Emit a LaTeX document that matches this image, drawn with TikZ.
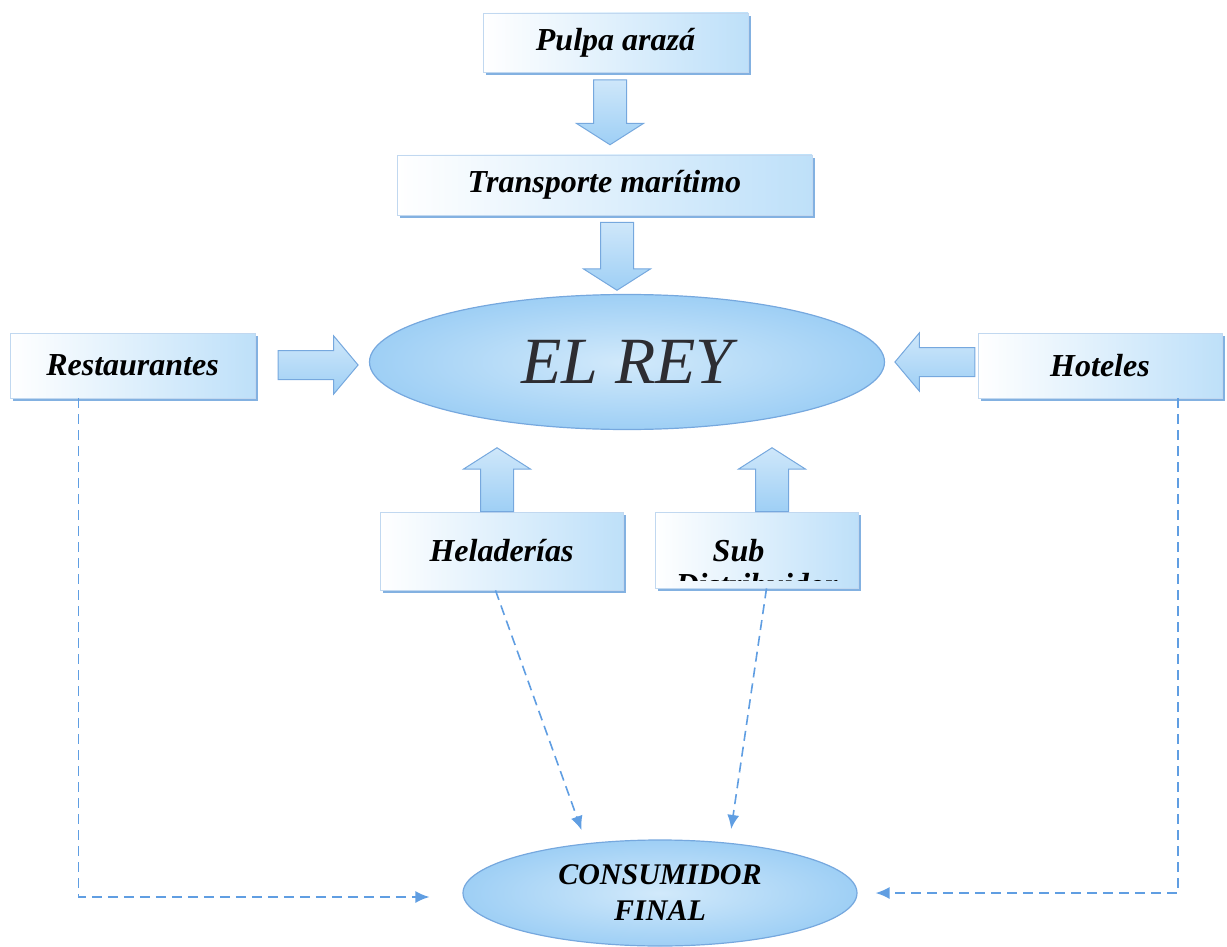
\documentclass[tikz,border=0pt]{standalone}
\usepackage{fontspec}
\setmainfont{Liberation Serif}
\usetikzlibrary{shapes.geometric,shapes.arrows,shadows,arrows.meta}

\definecolor{boxblue}{RGB}{190,224,249}
\definecolor{edgeblue}{RGB}{118,168,222}
\definecolor{dashblue}{RGB}{96,158,226}
\definecolor{arrowfill}{RGB}{158,207,245}
\definecolor{reygray}{RGB}{45,45,50}

\tikzset{
  box/.style={rectangle, inner sep=0pt, left color=white, right color=boxblue,
    draw=edgeblue!45, line width=0.4pt,
    drop shadow={shadow xshift=1.3pt, shadow yshift=-1.5pt, fill=edgeblue, opacity=0.9},
    font=\fontsize{16}{19}\selectfont\bfseries\itshape},
  oval/.style={ellipse, inner sep=0pt, inner color=boxblue!70, outer color=arrowfill,
    draw=edgeblue, line width=0.6pt},
  fatarrow/.style={single arrow, inner xsep=0pt, inner ysep=8pt, minimum height=#1,
    single arrow head extend=8.5pt, single arrow tip angle=115,
    top color=arrowfill!50, bottom color=arrowfill, draw=edgeblue, line width=0.5pt},
  fatarrow/.default=32pt,
  sidearrow/.style={fatarrow=40pt, inner ysep=7pt, single arrow head extend=7.3pt,
    single arrow tip angle=100},
  flow/.style={dashblue, line width=0.8pt, dash pattern=on 5pt off 3pt,
    -{Latex[length=7pt,width=6pt]}},
}

\begin{document}
\begin{tikzpicture}[x=0.5pt, y=-0.5pt]
  \useasboundingbox (0,0) rectangle (1227,947);

  % boxes
  \node[box, minimum width=132.5pt, minimum height=29.5pt] (pulpa) at (615.5,42.5) {Pulpa arazá};
  \node[box, minimum width=207.5pt, minimum height=30pt] (trans) at (604.5,185) {Transporte marítimo};
  \node[box, minimum width=122.5pt, minimum height=32.5pt] (rest) at (132.5,365.5) {Restaurantes};
  \node[box, minimum width=122pt, minimum height=32.5pt] (hot) at (1100,365.5) {Hoteles};
  \node[box, minimum width=121.5pt, minimum height=39pt] (hel) at (501.5,551) {Heladerías};
  \node[box, minimum width=101.5pt, minimum height=38pt] (sub) at (756.5,550) {};
  \begin{scope}[every node/.style={anchor=base, inner sep=0pt,
      font=\fontsize{16}{19}\selectfont\bfseries\itshape}]
    \clip (sub.north west) rectangle ([yshift=4pt]sub.south east);
    \node (subtop) at ([xshift=-9pt,yshift=-5.5pt]sub.center) {Sub};
    \node (subbot) at ([yshift=-17pt]sub.center |- subtop.base) {Distribuidor};
  \end{scope}

  % ovals
  \node[oval, minimum width=257.5pt, minimum height=67.5pt,
    font=\fontsize{33}{36}\selectfont\itshape, text=reygray] (rey) at (627,362) {EL REY};
  \node[oval, minimum width=197pt, minimum height=53pt, align=center,
    font=\fontsize{15}{18}\selectfont\bfseries\itshape] (cons) at (660,893) {CONSUMIDOR\\FINAL};

  % block arrows
  \node[fatarrow=32.5pt, rotate=-90] (a1) at (610,107) {};
  \node[fatarrow=34pt, rotate=-90] (a2) at (617,251) {};
  \node[sidearrow] (a3) at (312,365) {};
  \node[sidearrow, rotate=180] (a4) at (941,362) {};
  \node[fatarrow=32pt, rotate=90] (a5) at (497,485) {};
  \node[fatarrow=32pt, rotate=90] (a6) at (772,485) {};

  % dashed flows
  \draw[flow] ([xshift=-27pt]rest.south) |- ([xshift=-16.5pt,yshift=-2pt]cons.west);
  \draw[flow] ([xshift=39pt]hot.south) |- ([xshift=9pt]cons.east);
  \draw[flow, shorten >=7pt] ([xshift=-3pt]hel.south) -- (cons.146.8);
  \draw[flow, shorten >=7pt] ([xshift=5pt]sub.south) -- (cons.36.6);
\end{tikzpicture}
\end{document}
